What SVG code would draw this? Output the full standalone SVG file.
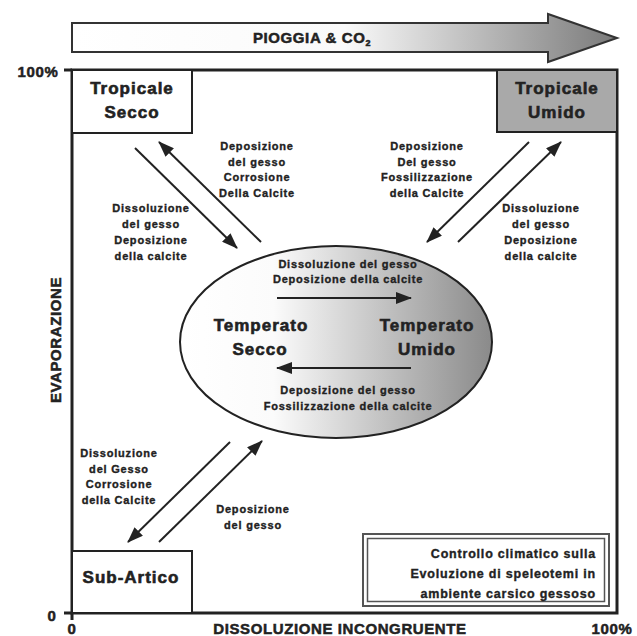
<svg xmlns="http://www.w3.org/2000/svg" width="637" height="636" viewBox="0 0 637 636">
<style>
text{font-family:"Liberation Sans",Arial,sans-serif;font-weight:bold;fill:#222;stroke:#222;stroke-width:0.35px;text-anchor:middle}
.lbl{font-size:11px;letter-spacing:0.8px}
.big{font-size:17px;letter-spacing:1px;stroke-width:0.6px}
.ax{font-size:15px;letter-spacing:0.6px;stroke-width:0.5px}
.box{fill:#fff;stroke:#222;stroke-width:2}
.frame{fill:none;stroke:#222;stroke-width:3}
</style>
<defs>
<marker id="ahb" viewBox="0 0 16 12" refX="15" refY="6" markerWidth="16" markerHeight="12" markerUnits="userSpaceOnUse" orient="auto">
<path d="M0,0 L16,6 L0,12 z" fill="#222"/>
</marker>
<linearGradient id="gArrow" x1="72" y1="0" x2="617" y2="0" gradientUnits="userSpaceOnUse">
<stop offset="0" stop-color="#fff"/>
<stop offset="0.5" stop-color="#fafafa"/>
<stop offset="1" stop-color="#7a7a7a"/>
</linearGradient>
<linearGradient id="gEll" x1="0" y1="0" x2="1" y2="0">
<stop offset="0" stop-color="#fff"/>
<stop offset="0.3" stop-color="#fbfbfb"/>
<stop offset="1" stop-color="#8a8a8a"/>
</linearGradient>
</defs>

<g id="rain-arrow">
<path d="M72,23 L548,23 L548,14 L617,38 L548,62 L548,52 L72,52 Z" fill="url(#gArrow)" stroke="#333" stroke-width="2" stroke-linejoin="miter"/>
<text x="312" y="43" class="ax">PIOGGIA &amp; CO<tspan font-size="9" dy="3">2</tspan></text>
</g>

<g id="axes">
<path class="frame" d="M72,70 L617,70 L617,613 L72,613 Z"/>
<path d="M64,70 L72,70 M64,613 L72,613 M72,613 L72,620" stroke="#222" stroke-width="3" fill="none"/>
<text x="38" y="77" class="ax">100%</text>
<text x="52" y="621" class="ax">0</text>
<text x="72" y="634" class="ax">0</text>
<text x="340" y="634" class="ax">DISSOLUZIONE INCONGRUENTE</text>
<text x="612" y="634" class="ax">100%</text>
<text x="0" y="0" class="ax" transform="translate(61,340) rotate(-90)">EVAPORAZIONE</text>
</g>

<g id="tropicale-secco">
<rect class="box" x="72" y="70" width="120" height="63"/>
<text x="132" y="94" class="big">Tropicale</text>
<text x="132" y="118" class="big">Secco</text>
</g>

<g id="tropicale-umido">
<rect x="497" y="70" width="120" height="62" fill="#a9a9a9" stroke="#222" stroke-width="2"/>
<text x="557" y="94" class="big">Tropicale</text>
<text x="557" y="118" class="big">Umido</text>
</g>

<g id="sub-artico">
<rect class="box" x="72" y="551" width="120" height="62"/>
<text x="131" y="583" class="big">Sub-Artico</text>
</g>

<g id="temperato">
<ellipse cx="336" cy="342" rx="156" ry="96" fill="url(#gEll)" stroke="#222" stroke-width="2"/>
<text x="261" y="331" class="big">Temperato</text>
<text x="260" y="355" class="big">Secco</text>
<text x="427" y="331" class="big">Temperato</text>
<text x="427" y="355" class="big">Umido</text>
</g>

<g id="legend">
<rect x="363" y="534" width="246" height="72" fill="#fff" stroke="#555" stroke-width="2"/>
<rect x="367.5" y="538.5" width="237" height="63" fill="none" stroke="#555" stroke-width="1.5"/>
<text x="596" y="558" class="lbl" style="font-size:12.5px;text-anchor:end">Controllo climatico sulla</text>
<text x="596" y="578" class="lbl" style="font-size:12.5px;text-anchor:end">Evoluzione di speleotemi in</text>
<text x="596" y="598" class="lbl" style="font-size:12.5px;text-anchor:end">ambiente carsico gessoso</text>
</g>

<g id="connectors">
<line x1="135" y1="148" x2="237" y2="248" stroke="#222" stroke-width="2" marker-end="url(#ahb)"/>
<line x1="261" y1="242" x2="159" y2="142" stroke="#222" stroke-width="2" marker-end="url(#ahb)"/>
<line x1="529" y1="142" x2="427" y2="242" stroke="#222" stroke-width="2" marker-end="url(#ahb)"/>
<line x1="458" y1="242" x2="561" y2="142" stroke="#222" stroke-width="2" marker-end="url(#ahb)"/>
<line x1="230" y1="442" x2="128" y2="542" stroke="#222" stroke-width="2" marker-end="url(#ahb)"/>
<line x1="159" y1="542" x2="262" y2="441" stroke="#222" stroke-width="2" marker-end="url(#ahb)"/>
<line x1="277" y1="298" x2="411" y2="298" stroke="#222" stroke-width="2" marker-end="url(#ahb)"/>
<line x1="411" y1="368" x2="277" y2="368" stroke="#222" stroke-width="2" marker-end="url(#ahb)"/>
</g>

<g id="labels">
<text class="lbl" x="257" y="150">Deposizione</text>
<text class="lbl" x="257" y="166">del gesso</text>
<text class="lbl" x="257" y="181">Corrosione</text>
<text class="lbl" x="257" y="197">Della Calcite</text>

<text class="lbl" x="151" y="212">Dissoluzione</text>
<text class="lbl" x="151" y="228">del gesso</text>
<text class="lbl" x="151" y="244">Deposizione</text>
<text class="lbl" x="151" y="260">della calcite</text>

<text class="lbl" x="427" y="150">Deposizione</text>
<text class="lbl" x="427" y="166">Del gesso</text>
<text class="lbl" x="427" y="181">Fossilizzazione</text>
<text class="lbl" x="427" y="197">della Calcite</text>

<text class="lbl" x="541" y="212">Dissoluzione</text>
<text class="lbl" x="541" y="228">del gesso</text>
<text class="lbl" x="541" y="244">Deposizione</text>
<text class="lbl" x="541" y="260">della calcite</text>

<text class="lbl" x="348" y="268">Dissoluzione del gesso</text>
<text class="lbl" x="348" y="283">Deposizione della calcite</text>
<text class="lbl" x="348" y="394">Deposizione del gesso</text>
<text class="lbl" x="348" y="410">Fossilizzazione della calcite</text>

<text class="lbl" x="119" y="457">Dissoluzione</text>
<text class="lbl" x="119" y="473">del Gesso</text>
<text class="lbl" x="119" y="488">Corrosione</text>
<text class="lbl" x="119" y="504">della Calcite</text>

<text class="lbl" x="253" y="513">Deposizione</text>
<text class="lbl" x="253" y="529">del gesso</text>
</g>
</svg>
